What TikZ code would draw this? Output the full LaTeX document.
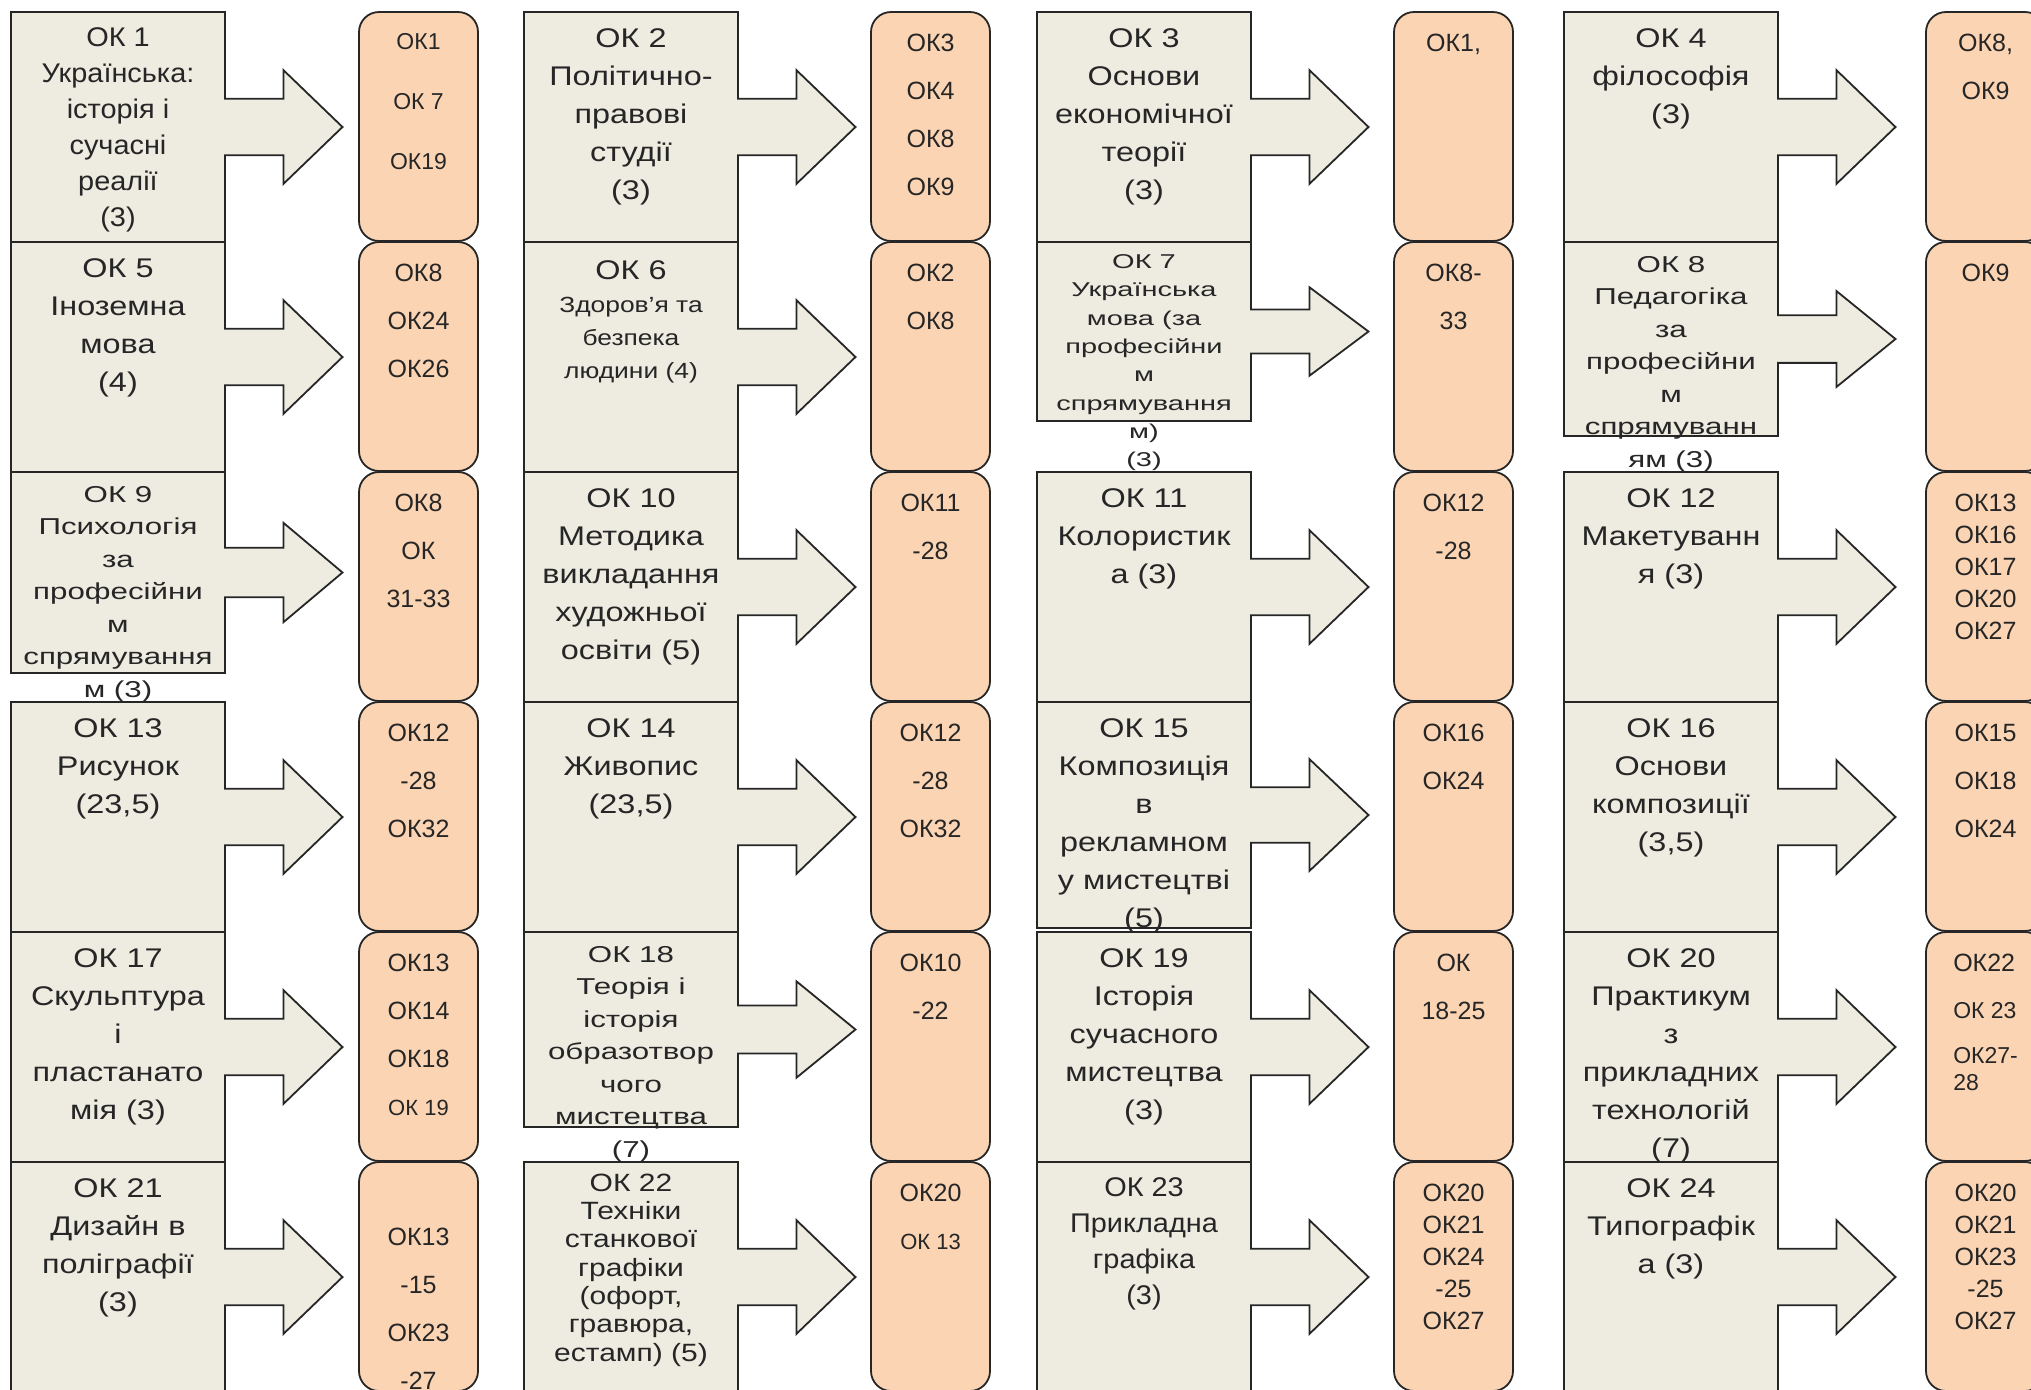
\documentclass[tikz,border=0pt]{standalone}
\usepackage{fontspec}
\setmainfont{Liberation Sans}
\newfontfamily\okfont[FakeStretch=1.2]{Liberation Sans}
\newfontfamily\okfontsnug[FakeStretch=1.07]{Liberation Sans}
\newfontfamily\okfontmid[FakeStretch=1.36]{Liberation Sans}
\newfontfamily\okfontsmall[FakeStretch=1.45]{Liberation Sans}
\usetikzlibrary{calc}
\definecolor{okfill}{HTML}{EEECE1}
\definecolor{outfill}{HTML}{FBD4B4}
\definecolor{ink}{HTML}{262626}

\begin{document}
\begin{tikzpicture}[x=0.5pt,y=-0.5pt,
  every node/.style={inner sep=0pt,outer sep=0pt,text=ink},
  okbox/.style={anchor=north west,minimum width=107pt},
  callout/.style={draw=ink,line width=0.9pt,fill=okfill,line join=miter},
  oktext/.style={anchor=north,align=center},
  outbox/.style={anchor=north west,draw=ink,line width=0.9pt,fill=outfill,rounded corners=10pt,
    minimum width=59.5pt,minimum height=114.5pt},
  big/.style={font=\okfont\fontsize{13.5}{19}\selectfont,yshift=-8.1pt},
  snug/.style={font=\okfontsnug\fontsize{13.5}{18}\selectfont,yshift=-7.6pt},
  mid/.style={font=\okfontmid\fontsize{11.5}{16.25}\selectfont,yshift=-7pt},
  small/.style={font=\okfontsmall\fontsize{10}{14.15}\selectfont,yshift=-6.35pt},
  tight/.style={font=\okfont\fontsize{12.5}{14.15}\selectfont,yshift=-5.9pt},
  mixed/.style={font=\okfont\fontsize{11}{16.5}\selectfont,yshift=-9.1pt},
  wide/.style={font=\fontsize{12.5}{24}\selectfont,yshift=-10.9pt},
  dense/.style={font=\fontsize{12.5}{16}\selectfont,yshift=-10.9pt},
  sparse/.style={font=\fontsize{11.5}{30}\selectfont,yshift=-10.8pt},
  low/.style={font=\fontsize{12.5}{24}\selectfont,yshift=-32.9pt},
  listed/.style={font=\fontsize{11.5}{13.5}\selectfont,align=left,yshift=-10.9pt}]
  \fill[white] (0,0) rectangle (2031,1389);
  \useasboundingbox (0,0) rectangle (2031,1389);
  \foreach \x/\y/\sty/\txt [count=\n] in {
    359/12/sparse/{ОК1\\ОК 7\\ОК19},871/12/wide/{ОК3\\ОК4\\ОК8\\ОК9},1394/12/wide/{ОК1,},1926/12/wide/{ОК8,\\ОК9},
    359/242/wide/{ОК8\\ОК24\\ОК26},871/242/wide/{ОК2\\ОК8},1394/242/wide/{ОК8-\\33},1926/242/wide/{ОК9},
    359/472/wide/{ОК8\\ОК\\31-33},871/472/wide/{ОК11\\-28},1394/472/wide/{ОК12\\-28},1926/472/dense/{ОК13\\ОК16\\ОК17\\ОК20\\ОК27},
    359/702/wide/{ОК12\\-28\\ОК32},871/702/wide/{ОК12\\-28\\ОК32},1394/702/wide/{ОК16\\ОК24},1926/702/wide/{ОК15\\ОК18\\ОК24},
    359/932/wide/{ОК13\\ОК14\\ОК18\\{\fontsize{11}{24}\selectfont ОК 19}},871/932/wide/{ОК10\\-22},1394/932/wide/{ОК\\18-25},
    1926/932/listed/{{\fontsize{12.5}{13.5}\selectfont ОК22}\\[10pt]ОК 23\\[9pt]ОК27-\\28},
    359/1162/low/{ОК13\\-15\\ОК23\\-27},871/1162/wide/{ОК20\\{\fontsize{11}{24}\selectfont ОК 13}},
    1394/1162/dense/{ОК20\\ОК21\\ОК24\\-25\\ОК27},1926/1162/dense/{ОК20\\ОК21\\ОК23\\-25\\ОК27}}
  {
    \node[outbox] (out\n) at (\x,\y) {};
    \node[oktext,\sty] (o\n) at (out\n.north) {\txt};
  }
  \foreach \x/\y/\h/\sty/\txt [count=\n] in {
    11/12/230/snug/{ОК 1\\Українська:\\історія і\\сучасні\\реалії\\(3)},
    524/12/230/big/{ОК 2\\Політично-\\правові\\студії\\(3)},
    1037/12/230/big/{ОК 3\\Основи\\економічної\\теорії\\(3)},
    1564/12/230/big/{ОК 4\\філософія\\(3)},
    11/242/230/big/{ОК 5\\Іноземна\\мова\\(4)},
    524/242/230/mixed/{{\fontsize{13.5}{16.5}\selectfont ОК 6}\\Здоров’я та\\безпека\\людини (4)},
    1037/242/179/small/{ОК 7\\Українська\\мова (за\\професійни\\м\\спрямування\\м)\\(3)},
    1564/242/194/mid/{ОК 8\\Педагогіка\\за\\професійни\\м\\спрямуванн\\ям (3)},
    11/472/201/mid/{ОК 9\\Психологія\\за\\професійни\\м\\спрямування\\м (3)},
    524/472/230/big/{ОК 10\\Методика\\викладання\\художньої\\освіти (5)},
    1037/472/230/big/{ОК 11\\Колористик\\а (3)},
    1564/472/230/big/{ОК 12\\Макетуванн\\я (3)},
    11/702/230/big/{ОК 13\\Рисунок\\(23,5)},
    524/702/230/big/{ОК 14\\Живопис\\(23,5)},
    1037/702/226/big/{ОК 15\\Композиція\\в\\рекламном\\у мистецтві\\(5)},
    1564/702/230/big/{ОК 16\\Основи\\композиції\\(3,5)},
    11/932/230/big/{ОК 17\\Скульптура\\і\\пластанато\\мія (3)},
    524/932/195/mid/{ОК 18\\Теорія і\\історія\\образотвор\\чого\\мистецтва\\(7)},
    1037/932/230/big/{ОК 19\\Історія\\сучасного\\мистецтва\\(3)},
    1564/932/230/big/{ОК 20\\Практикум\\з\\прикладних\\технологій\\(7)},
    11/1162/230/big/{ОК 21\\Дизайн в\\поліграфії\\(3)},
    524/1162/230/tight/{ОК 22\\Техніки\\станкової\\графіки\\(офорт,\\гравюра,\\естамп) (5)},
    1037/1162/230/snug/{ОК 23\\Прикладна\\графіка\\(3)},
    1564/1162/230/big/{ОК 24\\Типографік\\а (3)}}
  {
    \node[okbox,minimum height=\h*0.5pt] (ok\n) at (\x,\y) {};
    \pgfmathsetmacro\sh{0.123*\h}
    \pgfmathsetmacro\hh{0.247*\h}
    \draw[callout] (ok\n.north west) -- (ok\n.north east) -- ($(ok\n.east)+(0,-\sh)$)
      -- ($(ok\n.east)+(58.5,-\sh)$) -- ($(ok\n.east)+(58.5,-\hh)$) -- ($(ok\n.east)+(117.5,0)$)
      -- ($(ok\n.east)+(58.5,\hh)$) -- ($(ok\n.east)+(58.5,\sh)$) -- ($(ok\n.east)+(0,\sh)$)
      -- (ok\n.south east) -- (ok\n.south west) -- cycle;
    \node[oktext,\sty] (t\n) at (ok\n.north) {\txt};
  }
\end{tikzpicture}
\end{document}
